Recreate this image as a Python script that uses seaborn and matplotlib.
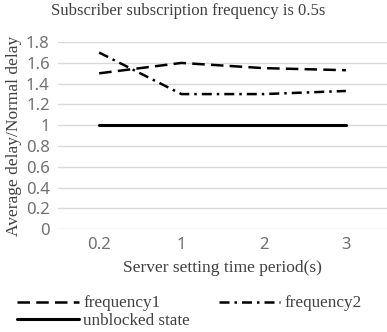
import numpy as np
import pandas as pd
import matplotlib
matplotlib.use('Agg')
import matplotlib.pyplot as plt
import seaborn as sns

# DATA
periods = ['0.2', '1', '2', '3']
frequency1 = [1.5, 1.6, 1.55, 1.53]
frequency2 = [1.7, 1.3, 1.3, 1.33]
unblocked = [1.0, 1.0, 1.0, 1.0]
series_names = ['frequency1', 'frequency2', 'unblocked state']
y_ticks = [0, 0.2, 0.4, 0.6, 0.8, 1, 1.2, 1.4, 1.6, 1.8]

df = pd.DataFrame({
    'period': periods * 3,
    'value': frequency1 + frequency2 + unblocked,
    'series': np.repeat(series_names, len(periods)),
})
df['x'] = df['period'].map({p: i for i, p in enumerate(periods)})

sns.set_style('white')
serif = ['Liberation Serif', 'DejaVu Serif']
sans = ['Noto Sans', 'DejaVu Sans']

fig = plt.figure(figsize=(3.87, 3.32), dpi=100)
ax = fig.add_axes([0.150, 0.310, 0.85, 0.563])

styles = {
    'frequency1': ((0, (5, 2.5)), 1.8),
    'frequency2': ((0, (4, 2, 1, 2)), 1.8),
    'unblocked state': ('-', 2.2),
}
for name in series_names:
    sub = df[df['series'] == name]
    ls, lw = styles[name]
    sns.lineplot(data=sub, x='x', y='value', ax=ax, color='black',
                 linewidth=lw, label=name, linestyle=ls)

ax.set_xlim(-0.5, len(periods) - 0.5)
ax.set_ylim(0, 1.8)
ax.set_xticks(range(len(periods)))
ax.set_xticklabels(periods)
ax.set_yticks(y_ticks)
ax.set_yticklabels([f'{t:g}' for t in y_ticks])
ax.yaxis.grid(True, color='#d9d9d9', linewidth=1)
for s in ax.spines.values():
    s.set_visible(False)
ax.tick_params(axis='both', length=0, labelsize=12, labelcolor='#707070', pad=6)
for lab in ax.get_xticklabels() + ax.get_yticklabels():
    lab.set_family(sans)

ax.set_xlabel('Server setting time period(s)', family=serif, fontsize=12.5,
              color='#404040', labelpad=5)
ax.set_ylabel('Average delay/Normal delay', family=serif, fontsize=12.5,
              color='#404040', labelpad=3)
fig.text(0.487, 0.968, 'Subscriber subscription frequency is 0.5s', family=serif,
         fontsize=12, color='#404040', ha='center', va='center')

handles, labels = ax.get_legend_handles_labels()
order = [0, 2, 1]
leg = fig.legend([handles[i] for i in order], [labels[i] for i in order],
                 loc='upper left', bbox_to_anchor=(0.045, 0.11),
                 ncol=2, frameon=False, handlelength=3.6, columnspacing=1.7,
                 handletextpad=0.25, labelspacing=0.1, borderpad=0,
                 borderaxespad=0, prop={'family': serif, 'size': 12.3})
for t in leg.get_texts():
    t.set_color('#404040')
if ax.get_legend():
    ax.get_legend().remove()

fig.savefig('out.png', dpi=100)
